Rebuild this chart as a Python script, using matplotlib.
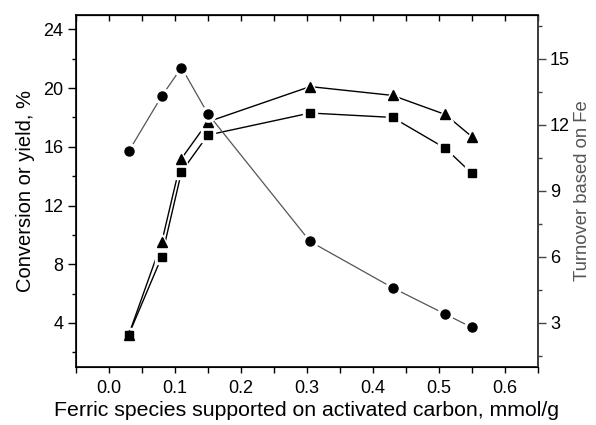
import matplotlib
matplotlib.use('Agg')
import matplotlib.pyplot as plt
from matplotlib.ticker import MultipleLocator

plt.rcParams['font.family'] = ['Liberation Sans', 'DejaVu Sans']

# loading of ferric species, mmol/g
fe_loading = [0.03, 0.08, 0.11, 0.15, 0.305, 0.43, 0.51, 0.55]
# conversion / yield, % (left axis)
conversion = [3.2, 9.5, 15.2, 17.7, 20.1, 19.5, 18.2, 16.7]
yield_pct = [3.2, 8.5, 14.3, 16.8, 18.3, 18.0, 15.9, 14.2]
# turnover based on Fe (right axis)
turnover = [10.8, 13.3, 14.6, 12.5, 6.7, 4.6, 3.4, 2.8]

fig = plt.figure(figsize=(5.96, 4.25), dpi=100)
ax = fig.add_axes([0.1275, 0.1365, 0.7745, 0.829])
ax2 = ax.twinx()

# lines first, then a white halo under each marker (gap like Origin), then markers
ax.plot(fe_loading, conversion, color='black', lw=1.0, zorder=1)
ax.plot(fe_loading, yield_pct, color='black', lw=1.0, zorder=1)
ax2.plot(fe_loading, turnover, color='#555555', lw=0.9, zorder=1)

ax.plot(fe_loading, conversion, ls='none', marker='^', ms=11, color='white', zorder=2)
ax.plot(fe_loading, yield_pct, ls='none', marker='s', ms=9.5, color='white', zorder=2)
ax2.plot(fe_loading, turnover, ls='none', marker='o', ms=11, color='white', zorder=2)

ax.plot(fe_loading, conversion, ls='none', marker='^', ms=7, color='black', zorder=3)
ax.plot(fe_loading, yield_pct, ls='none', marker='s', ms=5.5, color='black', zorder=3)
ax2.plot(fe_loading, turnover, ls='none', marker='o', ms=6.5, color='black', zorder=3)

ax.set_xlim(-0.05, 0.65)
ax.set_ylim(1, 25)
ax2.set_ylim(1, 17)

ax.xaxis.set_major_locator(MultipleLocator(0.1))
ax.xaxis.set_minor_locator(MultipleLocator(0.05))
ax.yaxis.set_major_locator(MultipleLocator(4))
ax.yaxis.set_minor_locator(MultipleLocator(2))
ax2.yaxis.set_major_locator(MultipleLocator(3))
ax2.yaxis.set_minor_locator(MultipleLocator(1.5))
ax.xaxis.set_major_formatter(plt.FuncFormatter(lambda v, p: f'{v:.1f}'))

ax.tick_params(axis='x', which='both', direction='out', labelsize=13, length=4.5, width=1, pad=5)
# top axis: inward ticks every 0.05, no labels
sec = ax.secondary_xaxis('top')
sec.xaxis.set_major_locator(MultipleLocator(0.05))
sec.tick_params(direction='in', length=4.5, width=1, labeltop=False)
ax.tick_params(axis='y', which='major', direction='out', length=5.5, width=1, labelsize=13)
ax.tick_params(axis='y', which='minor', direction='out', length=3, width=1)
ax2.tick_params(axis='y', which='major', direction='out', length=5.5, width=1, labelsize=13, color='#444444')
ax2.tick_params(axis='y', which='minor', direction='out', length=3, width=1, color='#444444')

for s in ax.spines.values():
    s.set_linewidth(1.2)
ax2.spines['right'].set_color('#444444')
ax2.spines['right'].set_linewidth(1.2)

ax.set_xlabel('Ferric species supported on activated carbon, mmol/g', fontsize=15.3, labelpad=3)
ax.set_ylabel('Conversion or yield, %', fontsize=14.5, labelpad=6)
ax2.set_ylabel('Turnover based on Fe', fontsize=13.3, color='#555555', labelpad=3)

fig.savefig('out.png', dpi=100)
